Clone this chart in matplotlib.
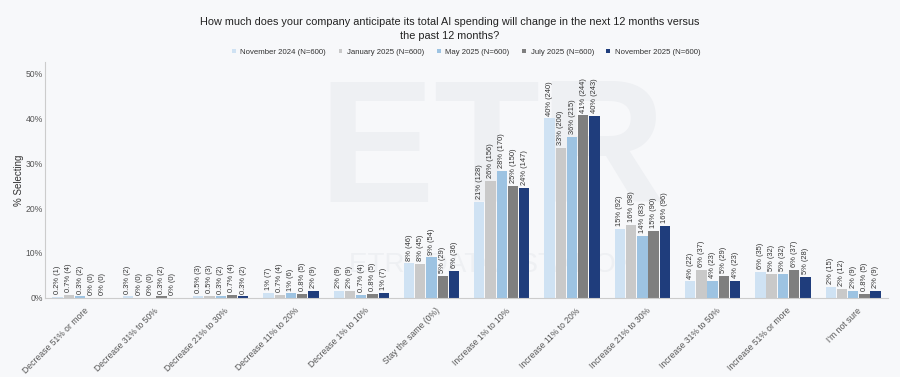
import numpy as np
import matplotlib
matplotlib.use('Agg')
import matplotlib.pyplot as plt

plt.rcParams['font.family'] = ['Liberation Sans', 'DejaVu Sans']

#answer options on the x axis
categories = ['Decrease 51% or more', 'Decrease 31% to 50%', 'Decrease 21% to 30%',
              'Decrease 11% to 20%', 'Decrease 1% to 10%', 'Stay the same (0%)',
              'Increase 1% to 10%', 'Increase 11% to 20%', 'Increase 21% to 30%',
              'Increase 31% to 50%', 'Increase 51% or more', "I'm not sure"]

series_names = ['November 2024 (N=600)', 'January 2025 (N=600)', 'May 2025 (N=600)',
                'July 2025 (N=600)', 'November 2025 (N=600)']

#percent selecting, one list per survey wave
nov_2024 = [0.17, 0.33, 0.5, 1.17, 1.5, 7.67, 21.33, 40.0, 15.33, 3.67, 5.83, 2.5]
jan_2025 = [0.67, 0.0, 0.5, 0.67, 1.5, 7.5, 26.0, 33.33, 16.33, 6.17, 5.33, 2.0]
may_2025 = [0.33, 0.0, 0.33, 1.0, 0.67, 9.0, 28.33, 35.83, 13.83, 3.83, 5.33, 1.5]
jul_2025 = [0.0, 0.33, 0.67, 0.83, 0.83, 4.83, 25.0, 40.67, 15.0, 4.83, 6.17, 0.83]
nov_2025 = [0.0, 0.0, 0.33, 1.5, 1.17, 6.0, 24.5, 40.5, 16.0, 3.83, 4.67, 1.5]

#respondent counts shown in brackets
nov_2024_n = [1, 2, 3, 7, 9, 46, 128, 240, 92, 22, 35, 15]
jan_2025_n = [4, 0, 3, 4, 9, 45, 156, 200, 98, 37, 32, 12]
may_2025_n = [2, 0, 2, 6, 4, 54, 170, 215, 83, 23, 32, 9]
jul_2025_n = [0, 2, 4, 5, 5, 29, 150, 244, 90, 29, 37, 5]
nov_2025_n = [0, 0, 2, 9, 7, 36, 147, 243, 96, 23, 28, 9]

colors = ['#cfe2f3', '#c9c9c9', '#9dc3e2', '#7f7f7f', '#1f3d7c']
bg = '#f7f8fa'

def pct_label(v, n):
    if 0 < v < 1:
        return f'{v:.1f}% ({n})'
    return f'{v:.0f}% ({n})'

values = [nov_2024, jan_2025, may_2025, jul_2025, nov_2025]
counts = [nov_2024_n, jan_2025_n, may_2025_n, jul_2025_n, nov_2025_n]

fig = plt.figure(figsize=(9, 3.77), dpi=100, facecolor=bg)
ax = fig.add_axes([0.05, 0.21, 0.937, 0.625], facecolor=bg)

#faint watermark behind the bars
ax.text(0.53, 0.6, 'ETR', transform=ax.transAxes, fontsize=125, fontweight='bold',
        color='#eef0f3', ha='center', va='center', zorder=0)
ax.text(0.53, 0.14, 'ETR   DATA   STATION', transform=ax.transAxes, fontsize=20,
        color='#eef0f3', ha='center', va='center', zorder=0)

x = np.arange(len(categories))
w = 0.16
for i in range(5):
    pos = x + (i - 2) * w
    ax.bar(pos, values[i], width=w * 0.92, color=colors[i], label=series_names[i], zorder=2)
    for p, v, n in zip(pos, values[i], counts[i]):
        ax.annotate(pct_label(v, n), (p, v), xytext=(0, 2), textcoords='offset points',
                    rotation=90, ha='center', va='bottom', fontsize=5.4, color='#333333',
                    zorder=3)

ax.set_xlim(-0.5, len(categories) - 0.5)
ax.set_ylim(0, 52.5)
ax.set_yticks([0, 10, 20, 30, 40, 50])
ax.set_yticklabels([f'{t}%' for t in [0, 10, 20, 30, 40, 50]])
ax.set_xticks(x + 0.05)
ax.set_xticklabels(categories, rotation=45, ha='right', rotation_mode='anchor')
ax.tick_params(axis='both', length=0, labelsize=6.2, colors='#555555')
ax.tick_params(axis='x', pad=6)
ax.tick_params(axis='y', pad=1.5)
ax.set_ylabel('% Selecting', fontsize=7, color='#333333', labelpad=1)

for s in ['top', 'right']:
    ax.spines[s].set_visible(False)
for s in ['left', 'bottom']:
    ax.spines[s].set_color('#cccccc')

fig.text(0.5, 0.922, 'How much does your company anticipate its total AI spending will change in the next 12 months versus\nthe past 12 months?',
         ha='center', va='center', fontsize=7.8, color='#222222', linespacing=1.5)

fig.legend(loc='center', bbox_to_anchor=(0.518, 0.862), ncol=5, frameon=False,
           fontsize=5.6, handlelength=0.5, handleheight=0.5, handletextpad=0.6,
           columnspacing=1.6, labelcolor='#333333')

fig.savefig('out.png', dpi=100, facecolor=bg)
